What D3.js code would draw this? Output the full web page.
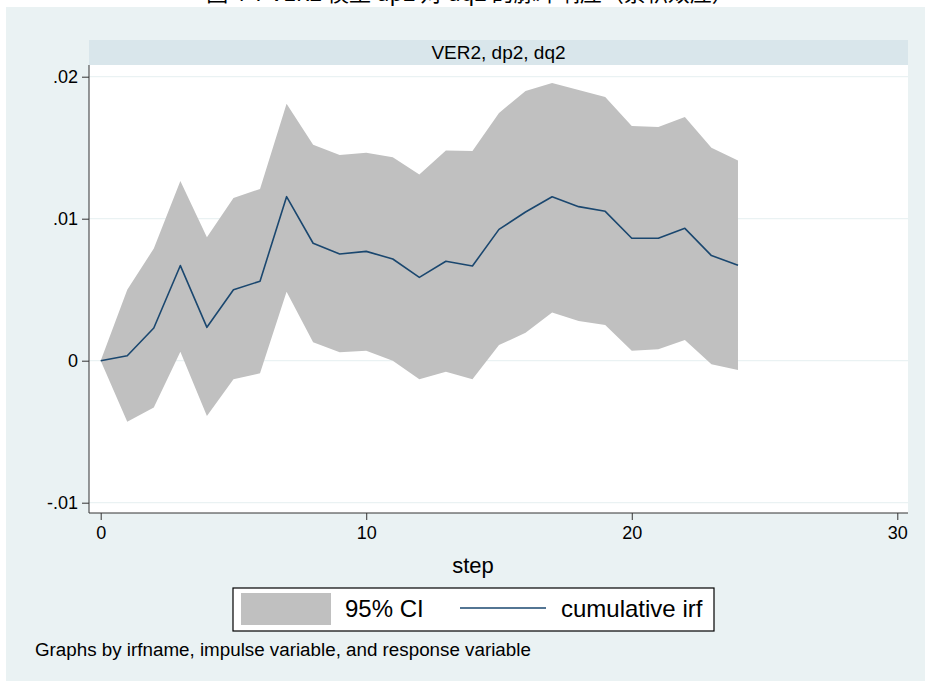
<!DOCTYPE html>
<html>
<head>
<meta charset="utf-8">
<script src="https://cdn.jsdelivr.net/npm/d3@7"></script>
<style>
  html, body { margin: 0; padding: 0; background: #ffffff; }
  svg { display: block; }
</style>
</head>
<body>
<svg id="chart" width="931" height="681"></svg>
<script>
// ---- data ----
const steps = [0,1,2,3,4,5,6,7,8,9,10,11,12,13,14,15,16,17,18,19,20,21,22,23,24];
const irf   = [0, 0.00035, 0.0023, 0.0067, 0.00235, 0.0050, 0.0056, 0.01155, 0.00827, 0.00751,
               0.0077, 0.00716, 0.00587, 0.0070, 0.00667, 0.00925, 0.01047, 0.01155, 0.01085, 0.01052,
               0.00862, 0.00862, 0.00932, 0.0074, 0.00672];
const ciUpper = [0, 0.0050, 0.0079, 0.01265, 0.0087, 0.01145, 0.0121, 0.0181, 0.0152, 0.01449,
               0.01465, 0.01432, 0.01312, 0.01480, 0.01477, 0.01745, 0.0190, 0.01956, 0.01907, 0.01857,
               0.01653, 0.01646, 0.01717, 0.0150, 0.01409];
const ciLower = [0, -0.0043, -0.0033, 0.00063, -0.0039, -0.0013, -0.00089, 0.00486, 0.0013, 0.00059,
               0.0007, 0.0000, -0.0013, -0.00077, -0.0013, 0.0011, 0.00197, 0.0034, 0.0028, 0.00251,
               0.0007, 0.0008, 0.00146, -0.00025, -0.00065];
const yTicks = [-0.01, 0, 0.01, 0.02];
const yTickLabels = ["-.01", "0", ".01", ".02"];
const xTicks = [0, 10, 20, 30];
const stripTitle = "VER2, dp2, dq2";
const xTitle = "step";
const legendLabels = ["95% CI", "cumulative irf"];
const note = "Graphs by irfname, impulse variable, and response variable";
const topTitle = "图 4-7   VER2 模型 dp2 对 dq2 的脉冲响应（累积效应）";

// ---- layout ----
const svg = d3.select("#chart");
const W = 931, H = 681;
const plot = {left: 89, right: 908, top: 65, bottom: 513};
const font = "Arial, 'Liberation Sans', Helvetica, sans-serif";

// cropped title (only lower part visible, as in the reference)
svg.append("text")
  .attr("x", 470).attr("y", 1)
  .attr("text-anchor", "middle")
  .attr("font-family", "'Noto Sans CJK SC', sans-serif")
  .attr("font-size", 22)
  .attr("fill", "#000")
  .text(topTitle);

// outer graph region
svg.append("rect").attr("x", 6).attr("y", 7).attr("width", W - 12).attr("height", H - 7)
  .attr("fill", "#eaf2f3");

// strip header
svg.append("rect").attr("x", plot.left).attr("y", 40)
  .attr("width", plot.right - plot.left).attr("height", plot.top - 40)
  .attr("fill", "#d9e6eb");
svg.append("text").attr("x", (plot.left + plot.right) / 2).attr("y", 59)
  .attr("text-anchor", "middle").attr("font-family", font).attr("font-size", 19)
  .attr("fill", "#000").text(stripTitle);

// plot region
svg.append("rect").attr("x", plot.left).attr("y", plot.top)
  .attr("width", plot.right - plot.left).attr("height", plot.bottom - plot.top)
  .attr("fill", "#ffffff");

// scales
const x = d3.scaleLinear().domain([0, 30]).range([100.7, 897.3]);
const y = d3.scaleLinear().domain([-0.01, 0.02]).range([502.7, 76.7]);

// gridlines
svg.append("g").selectAll("line").data(yTicks).join("line")
  .attr("x1", plot.left).attr("x2", plot.right)
  .attr("y1", d => y(d)).attr("y2", d => y(d))
  .attr("stroke", "#eaf2f3").attr("stroke-width", 1.2);

// CI area
const rows = steps.map((s, i) => ({s, lo: ciLower[i], hi: ciUpper[i], v: irf[i]}));
svg.append("path").datum(rows)
  .attr("d", d3.area().x(d => x(d.s)).y0(d => y(d.lo)).y1(d => y(d.hi)))
  .attr("fill", "#c0c0c0");

// irf line
svg.append("path").datum(rows)
  .attr("d", d3.line().x(d => x(d.s)).y(d => y(d.v)))
  .attr("fill", "none").attr("stroke", "#1a476f").attr("stroke-width", 1.6)
  .attr("stroke-linejoin", "round");

// axes
const yAxis = d3.axisLeft(y).tickValues(yTicks)
  .tickFormat(d => yTickLabels[yTicks.indexOf(d)]).tickSize(7).tickPadding(4);
const gy = svg.append("g").attr("transform", `translate(${plot.left},0)`).call(yAxis);
gy.select(".domain").attr("d", `M0,${plot.top}V${plot.bottom}`).attr("stroke", "#333");
gy.selectAll(".tick line").attr("stroke", "#333");
gy.selectAll(".tick text").attr("font-family", font).attr("font-size", 18).attr("fill", "#000");

const xAxis = d3.axisBottom(x).tickValues(xTicks).tickFormat(d3.format("d")).tickSize(7).tickPadding(6);
const gx = svg.append("g").attr("transform", `translate(0,${plot.bottom})`).call(xAxis);
gx.select(".domain").attr("d", `M${plot.left},0H${plot.right}`).attr("stroke", "#333");
gx.selectAll(".tick line").attr("stroke", "#333");
gx.selectAll(".tick text").attr("font-family", font).attr("font-size", 18).attr("fill", "#000");

// x title
svg.append("text").attr("x", 473).attr("y", 573).attr("text-anchor", "middle")
  .attr("font-family", font).attr("font-size", 22).attr("fill", "#000").text(xTitle);

// legend
const lg = svg.append("g");
lg.append("rect").attr("x", 233).attr("y", 588).attr("width", 481).attr("height", 43)
  .attr("fill", "#fff").attr("stroke", "#000").attr("stroke-width", 1.2);
lg.append("rect").attr("x", 241).attr("y", 593).attr("width", 90).attr("height", 32).attr("fill", "#c0c0c0");
lg.append("text").attr("x", 345).attr("y", 617).attr("font-family", font).attr("font-size", 24)
  .attr("fill", "#000").text(legendLabels[0]);
lg.append("line").attr("x1", 460).attr("x2", 546).attr("y1", 608).attr("y2", 608)
  .attr("stroke", "#1a476f").attr("stroke-width", 1.6);
lg.append("text").attr("x", 561).attr("y", 617).attr("font-family", font).attr("font-size", 24)
  .attr("fill", "#000").text(legendLabels[1]);

// note
svg.append("text").attr("x", 35).attr("y", 656).attr("font-family", font).attr("font-size", 18.8)
  .attr("fill", "#000").text(note);
</script>
</body>
</html>
